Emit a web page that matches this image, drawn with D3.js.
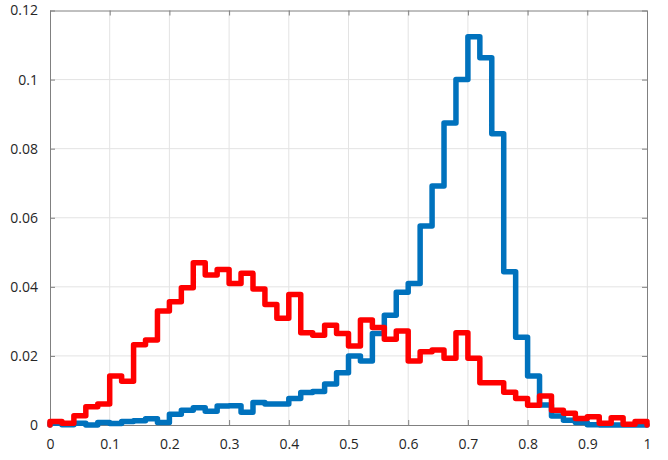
<!DOCTYPE html>
<html>
<head>
<meta charset="utf-8">
<script src="https://cdn.jsdelivr.net/npm/d3@7"></script>
<style>
    body { margin: 0; background: #fff; }
    svg text { font-family: "Open Sans", "Liberation Sans", sans-serif; font-size: 14px; fill: #262626; }
</style>
</head>
<body>
<svg id="chart" width="668" height="460"></svg>
<script>
// histogram bin edges: 50 bins of 0.02 from 0 to 1
const binEdges = d3.range(0, 51).map(i => i / 50);

const blueValues = [
    0.0005, 0.0001, 0.0005, 0.0000, 0.0007, 0.0004, 0.0010, 0.0012, 0.0018, 0.0007,
    0.0031, 0.0043, 0.0050, 0.0040, 0.0055, 0.0056, 0.0037, 0.0065, 0.0061, 0.0061,
    0.0077, 0.0094, 0.0097, 0.0119, 0.0151, 0.0200, 0.0185, 0.0265, 0.0318, 0.0384,
    0.0410, 0.0576, 0.0692, 0.0874, 0.1000, 0.1124, 0.1063, 0.0843, 0.0444, 0.0254,
    0.0142, 0.0058, 0.0026, 0.0014, 0.0007, 0.0001, 0.0000, 0.0000, 0.0000, 0.0000
];

const redValues = [
    0.0010, 0.0005, 0.0027, 0.0053, 0.0061, 0.0142, 0.0127, 0.0232, 0.0246, 0.0330,
    0.0357, 0.0397, 0.0470, 0.0434, 0.0450, 0.0410, 0.0439, 0.0394, 0.0349, 0.0309,
    0.0378, 0.0267, 0.0260, 0.0289, 0.0265, 0.0229, 0.0304, 0.0282, 0.0248, 0.0272,
    0.0185, 0.0212, 0.0217, 0.0193, 0.0267, 0.0193, 0.0122, 0.0122, 0.0095, 0.0077,
    0.0057, 0.0084, 0.0043, 0.0034, 0.0019, 0.0024, 0.0005, 0.0021, 0.0002, 0.0010
];

const xTicks = [0, 0.1, 0.2, 0.3, 0.4, 0.5, 0.6, 0.7, 0.8, 0.9, 1];
const yTicks = [0, 0.02, 0.04, 0.06, 0.08, 0.1, 0.12];

const svg = d3.select("#chart");
const margin = { left: 50, right: 21, top: 10.5, bottom: 35 };
const width = 668 - margin.left - margin.right,
    height = 460 - margin.top - margin.bottom;

const x = d3.scaleLinear().domain([0, 1]).range([0, width]);
const y = d3.scaleLinear().domain([0, 0.12]).range([height, 0]);

const g = svg.append("g")
    .attr("transform", `translate(${margin.left},${margin.top})`);

// grid
g.append("g")
    .selectAll("line")
    .data(xTicks.slice(1, -1))
    .enter().append("line")
    .attr("x1", d => x(d)).attr("x2", d => x(d))
    .attr("y1", 0).attr("y2", height)
    .attr("stroke", "#e3e3e3").attr("stroke-width", 1);

g.append("g")
    .selectAll("line")
    .data(yTicks.slice(1, -1))
    .enter().append("line")
    .attr("y1", d => y(d)).attr("y2", d => y(d))
    .attr("x1", 0).attr("x2", width)
    .attr("stroke", "#e3e3e3").attr("stroke-width", 1);

// axes, ticks pointing inwards
g.append("g")
    .attr("transform", `translate(0,${height})`)
    .call(d3.axisBottom(x).tickValues(xTicks).tickSizeInner(-5).tickSizeOuter(0).tickPadding(14)
        .tickFormat(d3.format("")));

g.append("g")
    .call(d3.axisLeft(y).tickValues(yTicks).tickSizeInner(-5).tickSizeOuter(0).tickPadding(12)
        .tickFormat(d3.format("")));

g.append("g")
    .call(d3.axisTop(x).tickValues(xTicks).tickSizeInner(-5).tickSizeOuter(0).tickFormat(""));

g.append("g")
    .attr("transform", `translate(${width},0)`)
    .call(d3.axisRight(y).tickValues(yTicks).tickSizeInner(-5).tickSizeOuter(0).tickFormat(""));

g.selectAll(".domain").attr("stroke", "#808080");
g.selectAll(".tick line").attr("stroke", "#808080");
g.selectAll(".tick text").attr("fill", "#262626")
    .style("font-family", "'Open Sans', 'Liberation Sans', sans-serif")
    .style("font-size", "14px");

function stairs(values) {
    let pts = [[binEdges[0], 0]];
    values.forEach((v, i) => {
        pts.push([binEdges[i], v]);
        pts.push([binEdges[i + 1], v]);
    });
    pts.push([binEdges[binEdges.length - 1], 0]);
    return pts;
}

const line = d3.line()
    .x(d => x(d[0]))
    .y(d => y(d[1]));

g.append("path")
    .datum(stairs(blueValues))
    .attr("d", line)
    .attr("fill", "none")
    .attr("stroke", "#0072bd")
    .attr("stroke-width", 5.5)
    .attr("stroke-linejoin", "round")
    .attr("stroke-linecap", "round");

g.append("path")
    .datum(stairs(redValues))
    .attr("d", line)
    .attr("fill", "none")
    .attr("stroke", "#ff0000")
    .attr("stroke-width", 5.5)
    .attr("stroke-linejoin", "round")
    .attr("stroke-linecap", "round");
</script>
</body>
</html>
